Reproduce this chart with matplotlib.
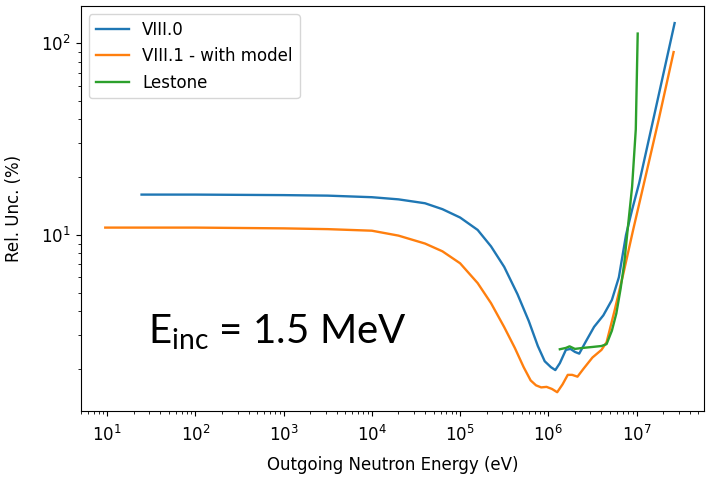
import matplotlib.pyplot as plt
import numpy as np

# Outgoing neutron energy (eV) and relative uncertainty (%)
e_viii0 = np.array([24.5, 100, 1000, 3160, 1e4, 2e4, 4e4, 6.3e4, 1e5, 1.58e5,
                    2.24e5, 3.16e5, 4.47e5, 6.0e5, 7.6e5, 9.1e5, 1.07e6, 1.2e6,
                    1.35e6, 1.58e6, 1.78e6, 2.0e6, 2.24e6, 2.63e6, 3.3e6, 4.2e6,
                    5.25e6, 6.3e6, 7.6e6, 8.9e6, 1.07e7, 1.58e7, 2.7e7])
u_viii0 = np.array([16.2, 16.2, 16.1, 16.0, 15.7, 15.3, 14.6, 13.6, 12.3, 10.6,
                    8.7, 6.8, 4.9, 3.55, 2.63, 2.19, 2.04, 1.97,
                    2.14, 2.51, 2.54, 2.45, 2.40, 2.75, 3.31, 3.8,
                    4.57, 6.0, 10.0, 13.5, 18.6, 41.7, 127])

e_viii1 = np.array([9.5, 100, 1000, 3160, 1e4, 2e4, 4e4, 6.3e4, 1e5, 1.58e5,
                    2.24e5, 3.16e5, 4.17e5, 5.25e5, 6.3e5, 7.25e5, 8.3e5, 9.55e5,
                    1.1e6, 1.26e6, 1.45e6, 1.66e6, 1.86e6, 2.14e6, 2.5e6, 3.16e6,
                    4.0e6, 4.57e6, 5.6e6, 7.1e6, 9.1e6, 1.26e7, 1.78e7, 2.63e7])
u_viii1 = np.array([10.9, 10.9, 10.8, 10.7, 10.5, 9.9, 9.0, 8.2, 7.1, 5.6,
                    4.4, 3.3, 2.57, 2.04, 1.74, 1.64, 1.60, 1.61,
                    1.57, 1.51, 1.66, 1.86, 1.86, 1.82, 2.0, 2.29,
                    2.51, 2.75, 3.98, 6.3, 10.5, 20.0, 39.8, 89.7])

e_lestone = np.array([1.35e6, 1.58e6, 1.74e6, 2.0e6, 2.45e6, 3.16e6, 4.0e6, 4.57e6,
                      5.25e6, 5.9e6, 6.6e6, 7.25e6, 7.9e6, 8.9e6, 9.8e6, 1.03e7])
u_lestone = np.array([2.53, 2.57, 2.62, 2.54, 2.57, 2.6, 2.63, 2.69,
                      3.16, 3.89, 5.25, 7.1, 10.5, 17.8, 35.5, 112])

plt.rcParams['mathtext.fontset'] = 'custom'
plt.rcParams['mathtext.rm'] = 'Lato'

fig = plt.figure(figsize=(7.12, 4.82), dpi=100)
ax = fig.add_axes([0.1133, 0.148, 0.8759, 0.8396])

ax.plot(e_viii0, u_viii0, color='#1f77b4', lw=1.7, label='VIII.0')
ax.plot(e_viii1, u_viii1, color='#ff7f0e', lw=1.7, label='VIII.1 - with model')
ax.plot(e_lestone, u_lestone, color='#2ca02c', lw=1.7, label='Lestone')

ax.set_xscale('log')
ax.set_yscale('log')
ax.set_xlim(5.0, 5.86e7)
ax.set_ylim(1.21, 156)
ax.set_xticks([1e1, 1e2, 1e3, 1e4, 1e5, 1e6, 1e7])
ax.tick_params(labelsize=12)
ax.tick_params(axis='x', pad=7)

ax.set_xlabel('Outgoing Neutron Energy (eV)', fontsize=12, labelpad=8)
ax.set_ylabel('Rel. Unc. (%)', fontsize=12, labelpad=13)
ax.legend(loc='upper left', fontsize=12)

ax.text(0.108, 0.165, r'E$_{\mathrm{inc}}$ = 1.5 MeV', transform=ax.transAxes,
        fontsize=29, family='Lato', va='baseline', ha='left')

fig.savefig('out.png', dpi=100)
